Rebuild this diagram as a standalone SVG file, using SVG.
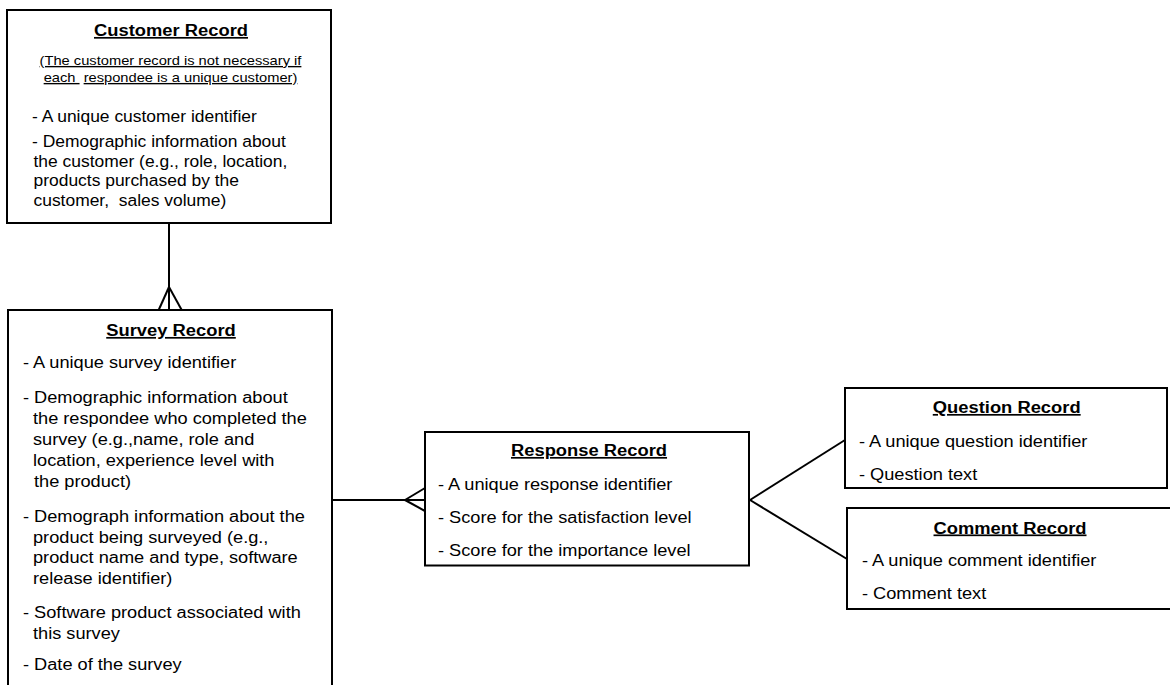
<svg xmlns="http://www.w3.org/2000/svg" width="1170" height="685" viewBox="0 0 1170 685">
<style>
rect.box{fill:#fff;stroke:#000;stroke-width:2}
.conn line{stroke:#000;stroke-width:2;fill:none}
text{font-family:"Liberation Sans",Arial,sans-serif;fill:#000}
.t{font-weight:bold;font-size:17px;text-anchor:middle;text-decoration:underline}
.sub{font-size:13.6px;text-anchor:middle}
.u{text-decoration:underline}
.b{font-size:16.85px}
.bc{font-size:16.15px}
</style>
<rect width="1170" height="685" fill="#fff"/>
<g id="customer">
<rect class="box" x="7" y="10" width="324" height="213"/>
<text class="t" transform="matrix(1.08 0 0 1 171 36)">Customer Record</text>
<text class="sub u" transform="matrix(1.08 0 0 1 170.5 65)">(The customer record is not necessary if</text>
<text class="sub" transform="matrix(1.08 0 0 1 170.5 82)" xml:space="preserve"><tspan class="u">each </tspan> <tspan class="u">respondee is a unique customer)</tspan></text>
<text class="bc" transform="matrix(1.08 0 0 1 32 122)">- A unique customer identifier</text>
<text class="bc" transform="matrix(1.08 0 0 1 32 147)">- Demographic information about</text>
<text class="bc" transform="matrix(1.08 0 0 1 33.5 166.5)">the customer (e.g., role, location,</text>
<text class="bc" transform="matrix(1.08 0 0 1 33.5 186)">products purchased by the</text>
<text class="bc" transform="matrix(1.08 0 0 1 33.5 205.5)" xml:space="preserve">customer,  sales volume)</text>
</g>
<g id="survey">
<rect class="box" x="8" y="310" width="324" height="400"/>
<text class="t" transform="matrix(1.08 0 0 1 171 336)">Survey Record</text>
<text class="b" transform="matrix(1.08 0 0 1 23 368)">- A unique survey identifier</text>
<text class="b" transform="matrix(1.08 0 0 1 23 403)">- Demographic information about</text>
<text class="b" transform="matrix(1.08 0 0 1 33 424)">the respondee who completed the</text>
<text class="b" transform="matrix(1.08 0 0 1 33 445)">survey (e.g.,name, role and</text>
<text class="b" transform="matrix(1.08 0 0 1 33 466)">location, experience level with</text>
<text class="b" transform="matrix(1.08 0 0 1 34 487)">the product)</text>
<text class="b" transform="matrix(1.08 0 0 1 23 522)">- Demograph information about the</text>
<text class="b" transform="matrix(1.08 0 0 1 33 542.5)">product being surveyed (e.g.,</text>
<text class="b" transform="matrix(1.08 0 0 1 33 563)">product name and type, software</text>
<text class="b" transform="matrix(1.08 0 0 1 33 583.5)">release identifier)</text>
<text class="b" transform="matrix(1.08 0 0 1 23 618)">- Software product associated with</text>
<text class="b" transform="matrix(1.08 0 0 1 33 638.5)">this survey</text>
<text class="b" transform="matrix(1.08 0 0 1 23 670)">- Date of the survey</text>
</g>
<g id="response">
<rect class="box" x="425" y="432" width="324" height="133.5"/>
<text class="t" transform="matrix(1.08 0 0 1 589 456)">Response Record</text>
<text class="b" transform="matrix(1.08 0 0 1 438 490)">- A unique response identifier</text>
<text class="b" transform="matrix(1.08 0 0 1 438 523)">- Score for the satisfaction level</text>
<text class="b" transform="matrix(1.08 0 0 1 438 555.5)">- Score for the importance level</text>
</g>
<g id="question">
<rect class="box" x="845" y="388" width="322" height="100"/>
<text class="t" transform="matrix(1.08 0 0 1 1006.7 413)">Question Record</text>
<text class="b" transform="matrix(1.08 0 0 1 859 446.5)">- A unique question identifier</text>
<text class="b" transform="matrix(1.08 0 0 1 859 479.5)">- Question text</text>
</g>
<g id="comment">
<rect class="box" x="847" y="508" width="330" height="101"/>
<text class="t" transform="matrix(1.08 0 0 1 1010 533.5)">Comment Record</text>
<text class="b" transform="matrix(1.08 0 0 1 862 565.5)">- A unique comment identifier</text>
<text class="b" transform="matrix(1.08 0 0 1 862 599)">- Comment text</text>
</g>
<g id="connectors" class="conn">
<line x1="169" y1="223" x2="169" y2="310"/>
<line x1="169" y1="287" x2="158.7" y2="310"/>
<line x1="169" y1="287" x2="181.7" y2="310"/>
<line x1="332" y1="500" x2="425" y2="500"/>
<line x1="405" y1="500" x2="425" y2="488"/>
<line x1="405" y1="500" x2="425" y2="511"/>
<line x1="750" y1="500" x2="845" y2="440"/>
<line x1="750" y1="500" x2="847" y2="559"/>
</g>
</svg>
